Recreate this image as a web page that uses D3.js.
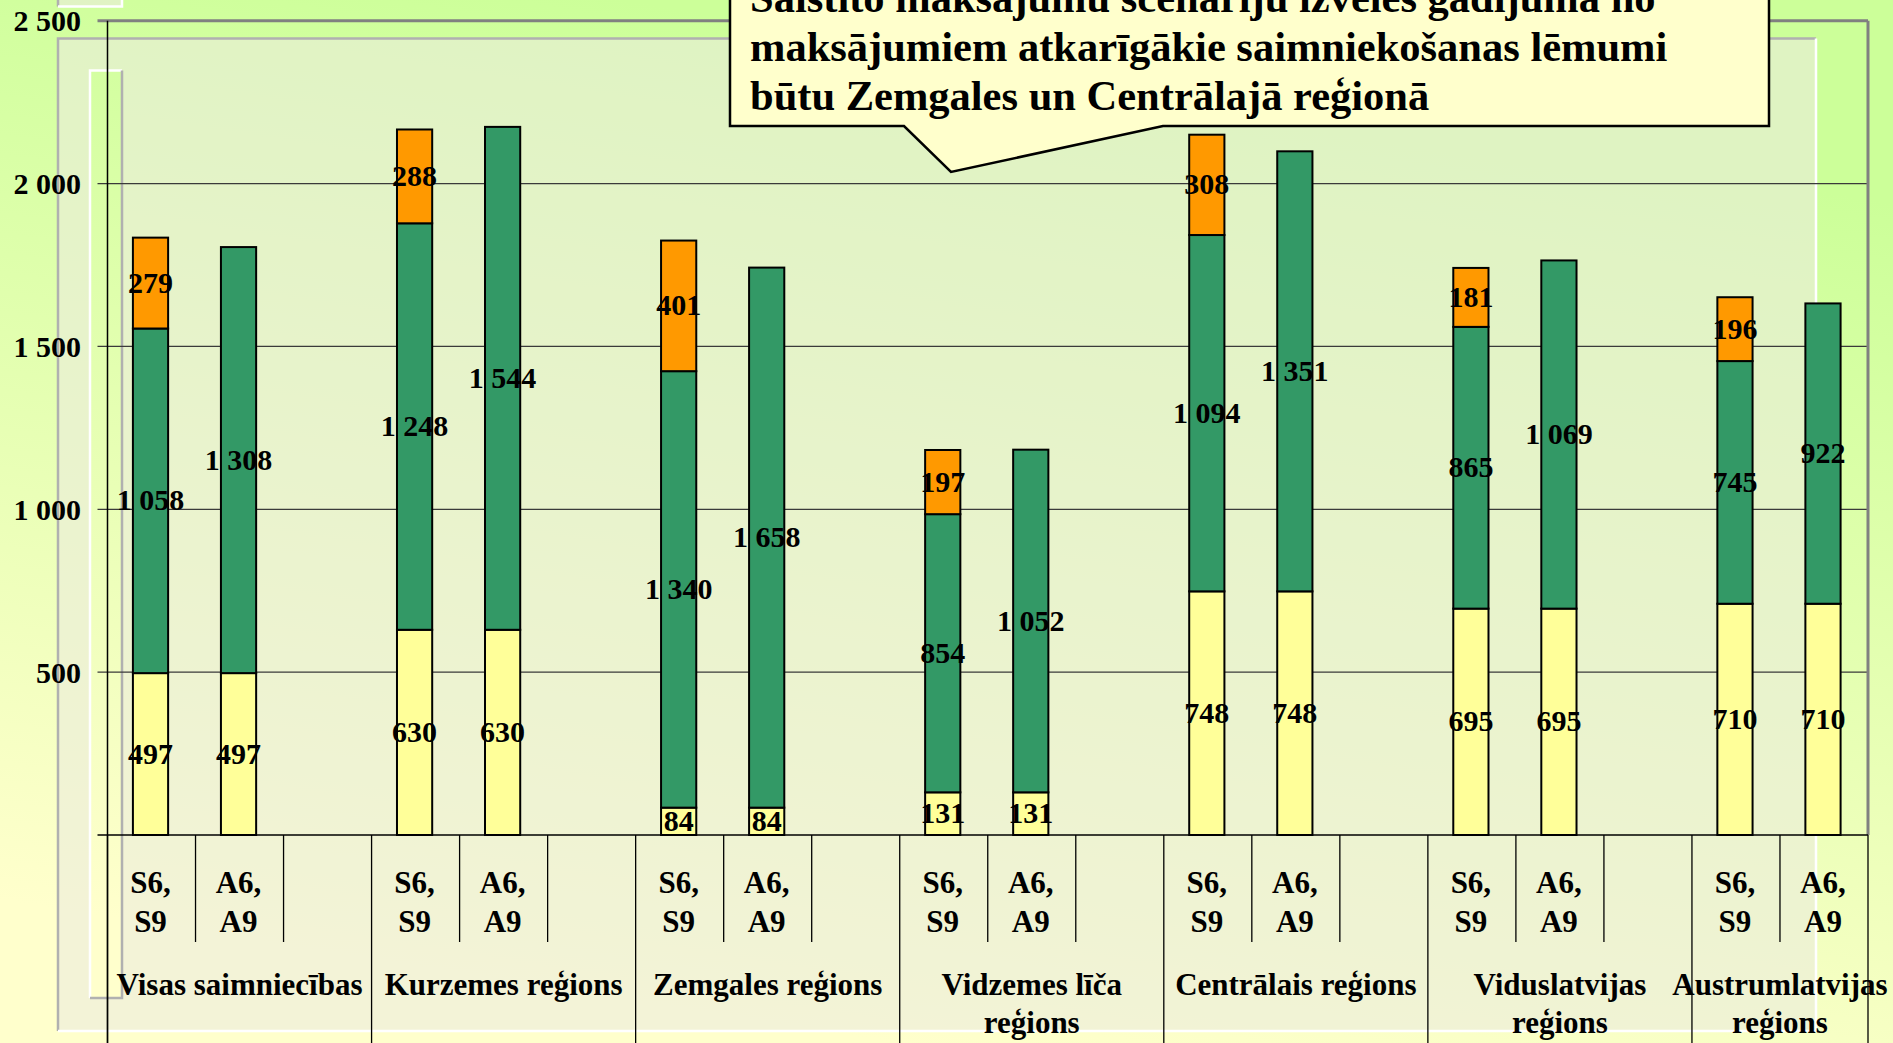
<!DOCTYPE html>
<html>
<head>
<meta charset="utf-8">
<script src="https://cdn.jsdelivr.net/npm/d3@7"></script>
<style>
body { margin: 0; overflow: hidden; }
text { font-family: "Liberation Serif", "Times New Roman", serif; font-weight: bold; fill: #000; }
</style>
</head>
<body>
<div class="chart"></div>
<script>
// groups along the x axis (line breaks as in the picture)
var groupLines = [
  ["Visas saimniecības"],
  ["Kurzemes reģions"],
  ["Zemgales reģions"],
  ["Vidzemes līča", "reģions"],
  ["Centrālais reģions"],
  ["Viduslatvijas", "reģions"],
  ["Austrumlatvijas", "reģions"]
];
var scenarioLines = [["S6,", "S9"], ["A6,", "A9"]];

// series values, one per group
var baseVals   = [497, 630, 84, 131, 748, 695, 710];       // yellow, same for both bars
var greenS     = [1058, 1248, 1340, 854, 1094, 865, 745];  // S6,S9 green part
var orangeS    = [279, 288, 401, 197, 308, 181, 196];      // S6,S9 orange part
var greenA     = [1308, 1544, 1658, 1052, 1351, 1069, 922];// A6,A9 green part

var yTicks = [500, 1000, 1500, 2000, 2500];

var calloutLines = [
  "Saistīto maksājumu scenāriju izvēles gadījumā no",
  "maksājumiem atkarīgākie saimniekošanas lēmumi",
  "būtu Zemgales un Centrālajā reģionā"
];

var colors = { base: "#FFFF99", mid: "#339966", top: "#FF9900" };

var width = 1893, height = 1043;
var plotL = 107.5, plotR = 1868, plotT = 20.7, plotB = 835;

var fmt = d3.formatLocale({ decimal: ",", thousands: " ", grouping: [3], currency: ["", ""] }).format(",d");

var svg = d3.select(".chart").append("svg")
    .attr("width", width)
    .attr("height", height);

var defs = svg.append("defs");
var grad = defs.append("linearGradient")
    .attr("id", "bg")
    .attr("gradientUnits", "userSpaceOnUse")
    .attr("x1", 15.6).attr("y1", -97.5)
    .attr("x2", -140.4).attr("y2", 877.5);
grad.append("stop").attr("offset", 0).attr("stop-color", "#CCFF99");
grad.append("stop").attr("offset", 1).attr("stop-color", "#FFFFCC");

// slide background
svg.append("rect").attr("width", width).attr("height", height).attr("fill", "url(#bg)");

// decorative boxes behind the chart
function bevelBox(x0, y0, x1, y1, fill, lightTopLeft) {
  var g = svg.append("g");
  g.append("rect").attr("x", x0).attr("y", y0).attr("width", x1 - x0).attr("height", y1 - y0).attr("fill", fill);
  var a = lightTopLeft ? "#ffffff" : "#b0b0b0";
  var b = lightTopLeft ? "#b0b0b0" : "#ffffff";
  g.append("path").attr("d", "M" + x0 + "," + y1 + "V" + y0 + "H" + x1).attr("fill", "none").attr("stroke", a).attr("stroke-width", 2.5);
  g.append("path").attr("d", "M" + x1 + "," + y0 + "V" + y1 + "H" + x0).attr("fill", "none").attr("stroke", b).attr("stroke-width", 2.5);
}
bevelBox(58, -20, 122, 6.5, "rgba(235,235,222,0.6)", false);
bevelBox(58, 38.5, 1816, 1031, "rgba(235,235,222,0.6)", false);
bevelBox(90, 70.5, 122, 998, "url(#bg)", true);

// slots on the x axis: S6,S9 / A6,A9 / empty in each group, last group without the empty one
var slots = [];
groupLines.forEach(function(g, i) {
  slots.push({ id: i + "-0", group: i, scen: 0 });
  slots.push({ id: i + "-1", group: i, scen: 1 });
  if (i < groupLines.length - 1) slots.push({ id: i + "-2", group: i, scen: -1 });
});

var x = d3.scaleBand()
    .domain(slots.map(function(d) { return d.id; }))
    .range([plotL, plotR]);

var y = d3.scaleLinear()
    .domain([0, 2500])
    .range([plotB, plotT]);

var chart = svg.append("g");

// gridlines and y labels
chart.selectAll(".grid")
    .data(yTicks)
    .enter().append("line")
      .attr("x1", plotL - 10)
      .attr("x2", plotR)
      .attr("y1", function(d) { return y(d); })
      .attr("y2", function(d) { return y(d); })
      .attr("stroke", function(d) { return d === 2500 ? "#808080" : "#3a3a3a"; })
      .attr("stroke-width", function(d) { return d === 2500 ? 3 : 1.3; });

chart.selectAll(".ylab")
    .data(yTicks)
    .enter().append("text")
      .attr("x", 81)
      .attr("y", function(d) { return y(d); })
      .attr("dy", "0.35em")
      .attr("text-anchor", "end")
      .style("font-size", "30px")
      .text(fmt);

// right border of the plot area
chart.append("line")
    .attr("x1", plotR).attr("x2", plotR)
    .attr("y1", plotT).attr("y2", plotB)
    .attr("stroke", "#808080").attr("stroke-width", 3);

// bar rows for the stack
var rows = [];
groupLines.forEach(function(g, i) {
  rows.push({ slot: i + "-0", base: baseVals[i], mid: greenS[i], top: orangeS[i] });
  rows.push({ slot: i + "-1", base: baseVals[i], mid: greenA[i], top: 0 });
});

var stack = d3.stack().keys(["base", "mid", "top"]);
var series = stack(rows);
var barW = x.bandwidth() * 0.4;

var layer = chart.selectAll(".layer")
    .data(series)
    .enter().append("g")
      .attr("fill", function(d) { return colors[d.key]; });

layer.selectAll("rect")
    .data(function(d) { return d.filter(function(p) { return p[1] - p[0] > 0; }); })
    .enter().append("rect")
      .attr("x", function(d) { return x(d.data.slot) + (x.bandwidth() - barW) / 2 - 1; })
      .attr("width", barW)
      .attr("y", function(d) { return y(d[1]); })
      .attr("height", function(d) { return y(d[0]) - y(d[1]); })
      .attr("stroke", "#000")
      .attr("stroke-width", 2);

// data labels in the middle of each segment
series.forEach(function(s) {
  chart.selectAll(".lab-" + s.key)
      .data(s.filter(function(p) { return p[1] - p[0] > 0; }))
      .enter().append("text")
        .attr("x", function(d) { return x(d.data.slot) + x.bandwidth() / 2 - 1; })
        .attr("y", function(d) { return y((d[0] + d[1]) / 2); })
        .attr("dy", "0.32em")
        .attr("text-anchor", "middle")
        .style("font-size", "30px")
        .text(function(d) { return fmt(d[1] - d[0]); });
});

// axes lines
chart.append("line")
    .attr("x1", plotL).attr("x2", plotL)
    .attr("y1", plotT).attr("y2", height + 5)
    .attr("stroke", "#000").attr("stroke-width", 1.5);
chart.append("line")
    .attr("x1", plotL - 10).attr("x2", plotR)
    .attr("y1", plotB).attr("y2", plotB)
    .attr("stroke", "#000").attr("stroke-width", 1.5);

// category dividers: short inside a group, long between groups
var step = x.step();
var bounds = d3.range(slots.length + 1).map(function(k) {
  var isLong = k === 0 || k === slots.length || slots[k].group !== slots[k - 1].group;
  return { x: plotL + k * step, long: isLong };
});
chart.selectAll(".div")
    .data(bounds)
    .enter().append("line")
      .attr("x1", function(d) { return d.x; })
      .attr("x2", function(d) { return d.x; })
      .attr("y1", plotB)
      .attr("y2", function(d) { return d.long ? height + 5 : 942; })
      .attr("stroke", "#000")
      .attr("stroke-width", 1.3);

// scenario labels
var scenSlots = slots.filter(function(d) { return d.scen >= 0; });
var scenText = chart.selectAll(".scen")
    .data(scenSlots)
    .enter().append("text")
      .attr("text-anchor", "middle")
      .style("font-size", "31px");
scenText.selectAll("tspan")
    .data(function(d) { return scenarioLines[d.scen].map(function(t) { return { t: t, slot: d.id }; }); })
    .enter().append("tspan")
      .attr("x", function(d) { return x(d.slot) + x.bandwidth() / 2 - 1; })
      .attr("y", function(d, i) { return 893 + i * 39; })
      .text(function(d) { return d.t; });

// group labels
var groupText = chart.selectAll(".grp")
    .data(groupLines)
    .enter().append("text")
      .attr("text-anchor", "middle")
      .style("font-size", "31px");
groupText.selectAll("tspan")
    .data(function(d, i) {
      var ids = slots.filter(function(s) { return s.group === i; });
      var cx = (x(ids[0].id) + x(ids[ids.length - 1].id) + step) / 2;
      return d.map(function(t) { return { t: t, cx: cx }; });
    })
    .enter().append("tspan")
      .attr("x", function(d) { return d.cx; })
      .attr("y", function(d, i) { return 995 + i * 38; })
      .text(function(d) { return d.t; });

// callout
var callout = svg.append("g");
callout.append("path")
    .attr("d", "M730,-10V126H904L951,172L1163,126H1769V-10")
    .attr("fill", "#FFFFCC")
    .attr("stroke", "#000")
    .attr("stroke-width", 2.5);
callout.selectAll("text")
    .data(calloutLines)
    .enter().append("text")
      .attr("x", 750)
      .attr("y", function(d, i) { return 12 + i * 49; })
      .style("font-size", "42.5px")
      .text(function(d) { return d; });
</script>
</body>
</html>
